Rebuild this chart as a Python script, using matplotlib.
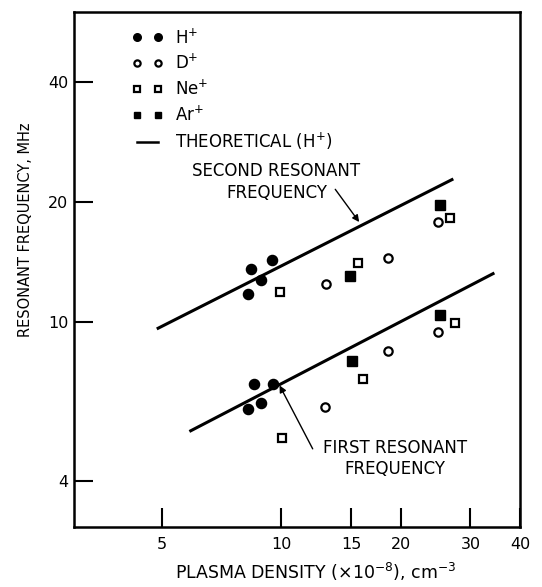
import matplotlib
matplotlib.use("Agg")
import matplotlib.pyplot as plt
from matplotlib.ticker import FixedLocator, FixedFormatter, NullLocator
from matplotlib.lines import Line2D

plt.rcParams['font.family'] = ['DejaVu Sans']

# ---- data ----
# second resonant frequency
h2_x = [8.40, 9.47, 8.91, 8.25]
h2_y = [13.6, 14.3, 12.8, 11.75]
d2_x = [12.97, 18.6, 24.8]
d2_y = [12.5, 14.5, 17.9]
ne2_x = [9.92, 15.6, 26.7]
ne2_y = [11.9, 14.1, 18.3]
ar2_x = [14.9, 25.2]
ar2_y = [13.1, 19.7]
# first resonant frequency
h1_x = [8.51, 9.51, 8.87, 8.22]
h1_y = [7.00, 6.99, 6.29, 6.07]
d1_x = [12.9, 18.6, 24.9]
d1_y = [6.12, 8.46, 9.46]
ne1_x = [10.06, 16.08, 27.4]
ne1_y = [5.13, 7.21, 9.98]
ar1_x = [15.1, 25.1]
ar1_y = [8.02, 10.45]
# theoretical lines (H+)
theo2_x = [4.89, 26.94]
theo2_y = [9.67, 22.8]
theo1_x = [5.91, 34.2]
theo1_y = [5.35, 13.25]

xticks = [5, 10, 15, 20, 30, 40]
yticks = [4, 10, 20, 40]

fig = plt.figure(figsize=(5.42, 5.87), dpi=100)
ax = fig.add_axes([74/542, 1-527/587, (520-74)/542, (527-12)/587])
ax.set_xscale('log')
ax.set_yscale('log')
ax.set_xlim(3.0, 40)
ax.set_ylim(3.07, 60)

ms = 7
mew = 1.6
ax.plot(theo2_x, theo2_y, color='black', lw=2.2)
ax.plot(theo1_x, theo1_y, color='black', lw=2.2)

hH, = ax.plot(h2_x + h1_x, h2_y + h1_y, 'o', color='black', ms=ms + 0.3, ls='none', label='H$^{+}$')
hD, = ax.plot(d2_x + d1_x, d2_y + d1_y, 'o', mfc='white', mec='black', mew=mew, ms=ms - 1, ls='none', label='D$^{+}$')
hNe, = ax.plot(ne2_x + ne1_x, ne2_y + ne1_y, 's', mfc='white', mec='black', mew=mew, ms=ms - 1.5, ls='none', label='Ne$^{+}$')
hAr, = ax.plot(ar2_x + ar1_x, ar2_y + ar1_y, 's', color='black', ms=ms - 0.5, ls='none', label='Ar$^{+}$')
hT = Line2D([], [], color='black', lw=1.8, label='THEORETICAL (H$^{+}$)')

leg = ax.legend(handles=[hH, hD, hNe, hAr, hT], loc='upper left', frameon=False,
                numpoints=2, markerscale=0.75, handlelength=1.86, handletextpad=0.72,
                labelspacing=0.39, fontsize=12, bbox_to_anchor=(0.115, 0.982),
                borderaxespad=0.0)

ax.text(9.72, 22.5, 'SECOND RESONANT\nFREQUENCY', ha='center', va='center',
        fontsize=12, linespacing=1.25)
ax.annotate('', xy=(15.72, 17.85), xytext=(13.68, 21.56),
            arrowprops=dict(arrowstyle='-|>', color='black', lw=1.0,
                            mutation_scale=10, shrinkA=0, shrinkB=0))
ax.text(19.33, 4.56, 'FIRST RESONANT\nFREQUENCY', ha='center', va='center',
        fontsize=12, linespacing=1.25)
ax.annotate('', xy=(9.90, 6.95), xytext=(12.0, 4.82),
            arrowprops=dict(arrowstyle='-|>', color='black', lw=1.0,
                            mutation_scale=10, shrinkA=0, shrinkB=0))

ax.xaxis.set_major_locator(FixedLocator(xticks))
ax.xaxis.set_major_formatter(FixedFormatter([str(t) for t in xticks]))
ax.xaxis.set_minor_locator(NullLocator())
ax.yaxis.set_major_locator(FixedLocator(yticks))
ax.yaxis.set_major_formatter(FixedFormatter([str(t) for t in yticks]))
ax.yaxis.set_minor_locator(NullLocator())
ax.tick_params(direction='in', length=14, width=1.5, labelsize=11.5)
ax.tick_params(axis='x', pad=7)
ax.tick_params(axis='y', pad=4)
for s in ax.spines.values():
    s.set_linewidth(1.8)

ax.set_xlabel('PLASMA DENSITY (\u00d710$^{-8}$), cm$^{-3}$', fontsize=12.5)
ax.xaxis.set_label_coords((316 - 74) / 446, -(561 - 527) / 515)
ax.set_ylabel('RESONANT FREQUENCY, MHz', fontsize=10.5)
ax.yaxis.set_label_coords((33 - 74) / 446, (527 - 230) / 515)

fig.savefig('out.png', dpi=100)
